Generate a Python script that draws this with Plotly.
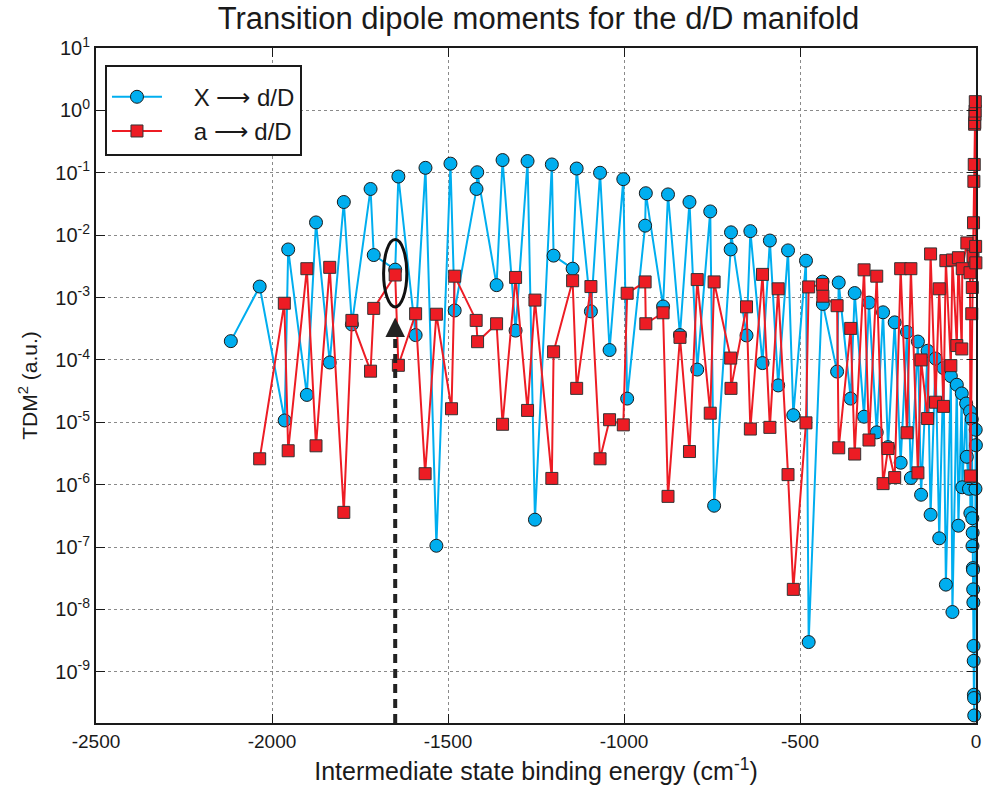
import math
import plotly.graph_objects as go

# ---- data: X -> d/D (blue circles) ----
x_X = [-2117, -2035, -1964, -1954, -1901, -1875, -1836, -1796, -1773, -1720, -1711, -1650, -1641,
       -1592, -1564, -1533, -1493, -1481, -1419, -1417, -1362, -1345, -1308, -1274, -1253, -1205,
       -1200, -1146, -1134.5, -1094, -1068, -1041, -1002, -991, -940, -938, -889, -875, -841, -814,
       -792, -755, -744, -697, -696, -652, -641, -606.5, -585.6, -562, -534, -519, -483, -475.4,
       -436, -435, -394.6, -390, -356, -344.6, -318, -304, -282, -264, -250, -231, -214, -196,
       -185, -165, -156, -137.5, -129, -115, -104.5, -92.4, -85.6, -71.5, -67, -54.5, -50, -40.4,
       -39, -28, -26, -20, -17, -16, -12, -10.5, -10, -9.5, -9, -8.5, -8, -7.5, -7, -6.5, -6,
       -5.5, -5, -1.5, -0.8, -0.3]
tdm_X = [2.0e-4, 1.5e-3, 1.07e-5, 5.9e-3, 2.75e-5, 1.6e-2, 9.1e-5, 3.4e-2, 3.7e-4, 5.5e-2, 4.8e-3,
         2.8e-3, 8.7e-2, 2.5e-4, 0.12, 1.05e-7, 0.14, 6.2e-4, 0.055, 0.102, 1.58e-3, 0.16, 2.95e-4,
         0.154, 2.75e-7, 0.136, 4.7e-3, 2.9e-3, 0.117, 6.0e-4, 0.10, 1.44e-4, 0.079, 2.4e-5, 0.0142,
         0.047, 7.2e-4, 0.045, 2.5e-4, 0.034, 7.0e-5, 0.024, 4.6e-7, 5.9e-3, 0.0111, 2.47e-4, 0.0116,
         8.9e-5, 8.2e-3, 3.9e-5, 5.7e-3, 1.3e-5, 3.9e-3, 3.0e-9, 1.8e-3, 7.9e-4, 6.5e-5, 1.74e-3,
         2.4e-5, 1.18e-3, 1.23e-5, 8.3e-4, 6.9e-6, 5.8e-4, 4.0e-6, 4.0e-4, 2.25e-6, 2.8e-4, 1.28e-6,
         1.97e-4, 6.9e-7, 1.4e-4, 3.3e-7, 1.05e-4, 1.38e-7, 7.4e-5, 2.5e-8, 5.5e-5, 9.1e-9, 4.0e-5,
         2.2e-7, 2.9e-5, 9.1e-7, 2.0e-5, 2.8e-6, 8.6e-7, 1.5e-5, 3.5e-7, 1.12e-5, 2.9e-7, 1.04e-7,
         1.7e-7, 4.6e-8, 4.3e-8, 2.1e-8, 1.3e-8, 2.6e-9, 1.5e-9, 4.3e-10, 3.8e-10, 2.0e-10, 8.6e-7,
         7.6e-6, 4.3e-6]

# ---- data: a -> d/D (red squares) ----
x_a = [-2035, -1965, -1954, -1901, -1875, -1836, -1796, -1773, -1720, -1711, -1650, -1641, -1592,
       -1565, -1533, -1490, -1481, -1420, -1416, -1362, -1345, -1308, -1274, -1253, -1205, -1200,
       -1146, -1134.5, -1094, -1068, -1041, -1002, -991, -940, -938, -889, -875, -841, -814, -792,
       -755, -744, -697, -696, -652, -641, -606.5, -585.6, -562, -534, -519, -483, -475.4, -436,
       -435, -394.6, -390, -356, -344.6, -318, -304, -282, -264, -250, -231, -214, -196, -185,
       -165, -156, -137.5, -129, -115, -104.5, -92.4, -85.6, -71.5, -67, -54.5, -50, -40.4, -39,
       -26, -17, -16, -12, -10.5, -8.5, -7, -6, -5, -4, -3.5, -3, -2.5, -2, -1, -0.3]
tdm_a = [2.6e-6, 8.1e-4, 3.5e-6, 2.9e-3, 4.2e-6, 3.05e-3, 3.6e-7, 4.3e-4, 6.6e-5, 6.7e-4, 2.3e-3,
         8.2e-5, 5.5e-4, 1.5e-6, 5.4e-4, 1.65e-5, 2.2e-3, 4.3e-4, 1.96e-4, 3.8e-4, 9.3e-6, 2.1e-3,
         1.55e-5, 9.1e-4, 1.26e-6, 1.35e-4, 1.86e-3, 3.5e-5, 1.5e-3, 2.6e-6, 1.1e-5, 9.1e-6, 1.17e-3,
         1.78e-3, 3.8e-4, 5.7e-4, 6.5e-7, 2.3e-4, 3.4e-6, 1.94e-3, 1.4e-5, 1.78e-3, 1.07e-4, 3.5e-5,
         7.1e-4, 7.8e-6, 2.35e-3, 8.3e-6, 1.38e-3, 1.45e-6, 2.1e-8, 9.8e-6, 1.48e-3, 1.62e-3, 1.05e-3,
         7.4e-4, 3.9e-6, 3.2e-4, 3.1e-6, 2.78e-3, 5.2e-6, 2.2e-3, 1.04e-6, 3.8e-6, 1.3e-6, 2.9e-3,
         6.8e-6, 2.9e-3, 1.55e-6, 1.0e-4, 1.15e-5, 5.0e-3, 2.1e-5, 1.38e-3, 1.8e-5, 3.9e-3, 8.1e-5,
         4.0e-3, 1.7e-4, 4.35e-3, 1.5e-4, 2.9e-3, 7.5e-3, 2.5e-3, 1.38e-6, 5.5e-4, 1.45e-3, 4.6e-3,
         0.0158, 0.073, 0.136, 0.6, 0.635, 0.86, 0.975, 1.38, 6.6e-3, 3.6e-3]

x_ticks = [-2500, -2000, -1500, -1000, -500, 0]
x_ticklabels = ["-2500", "-2000", "-1500", "-1000", "-500", "0"]
y_exps = [1, 0, -1, -2, -3, -4, -5, -6, -7, -8, -9]

# highlighted state (ellipse + dashed arrow)
hl_x = -1650
hl_ylo, hl_yhi = 10 ** -3.15, 10 ** -2.07
hl_halfwidth = 33
arrow_tip = 10 ** -3.32

FONT = "Liberation Sans, Arial, sans-serif"
BLUE = "#00AEEF"
RED = "#ED1C24"
PAD = "\u00a0\u00a0\u00a0\u00a0"

fig = go.Figure()
fig.add_trace(go.Scatter(
    x=x_X, y=tdm_X, mode="lines+markers", name=PAD + "X \u27f6 d/D",
    line=dict(color=BLUE, width=2),
    marker=dict(symbol="circle", size=13, color=BLUE, line=dict(color="#1a1a1a", width=1)),
    cliponaxis=False,
))
fig.add_trace(go.Scatter(
    x=x_a, y=tdm_a, mode="lines+markers", name=PAD + "a \u27f6 d/D",
    line=dict(color=RED, width=2),
    marker=dict(symbol="square", size=12, color=RED, line=dict(color="#333333", width=1)),
    cliponaxis=False,
))

# dashed arrow shaft
fig.add_shape(type="line", xref="x", yref="y", x0=hl_x, x1=hl_x,
              y0=10 ** -9.82, y1=arrow_tip * 0.6,
              line=dict(color="#222222", width=4, dash="9px,6px"), layer="above")
# arrow head
fig.add_annotation(x=hl_x, y=math.log10(arrow_tip), xref="x", yref="y", text="",
                   showarrow=True, arrowhead=2, arrowsize=1.3, arrowwidth=3,
                   arrowcolor="#222222", ax=0, ay=20)
# ellipse
fig.add_shape(type="circle", xref="x", yref="y",
              x0=hl_x - hl_halfwidth, x1=hl_x + hl_halfwidth, y0=hl_ylo, y1=hl_yhi,
              line=dict(color="#111111", width=3), layer="above")

fig.update_layout(
    width=988, height=807,
    margin=dict(l=96, r=7, t=48, b=84),
    paper_bgcolor="white", plot_bgcolor="white",
    font=dict(family=FONT, color="#1a1a1a", size=19),
    title=dict(text="Transition dipole moments for the d/D manifold",
               x=0.545, xanchor="center", y=0.978, yanchor="middle",
               font=dict(size=31, family=FONT, color="#1a1a1a")),
    showlegend=True,
    legend=dict(x=0.0102, y=0.975, xanchor="left", yanchor="top",
                bgcolor="white", bordercolor="#1a1a1a", borderwidth=2,
                font=dict(size=24, family=FONT, color="#1a1a1a"),
                title=dict(text="\u00a0", font=dict(size=6)),
                itemwidth=50, tracegroupgap=4),
)
fig.update_xaxes(
    range=[-2500, 0], tickvals=x_ticks, ticktext=x_ticklabels,
    showgrid=True, gridcolor="#8a8a8a", griddash="dot", gridwidth=1,
    ticks="inside", ticklen=9, tickcolor="#1a1a1a",
    showline=True, linecolor="#1a1a1a", linewidth=2, mirror="ticks", zeroline=False,
    tickfont=dict(size=19),
    title=dict(text="Intermediate state binding energy (cm<sup>-1</sup>)",
               font=dict(size=25), standoff=12),
)
fig.update_yaxes(
    type="log", range=[-9.82, 1.0],
    tickvals=[10 ** e for e in y_exps],
    ticktext=["10<sup>%d</sup>" % e for e in y_exps],
    showgrid=True, gridcolor="#8a8a8a", griddash="dot", gridwidth=1,
    ticks="inside", ticklen=9, tickcolor="#1a1a1a",
    showline=True, linecolor="#1a1a1a", linewidth=2, mirror="ticks", zeroline=False,
    tickfont=dict(size=20),
    title=dict(text="TDM<sup>2</sup> (a.u.)", font=dict(size=21), standoff=12),
)

fig.write_html("out.html")
